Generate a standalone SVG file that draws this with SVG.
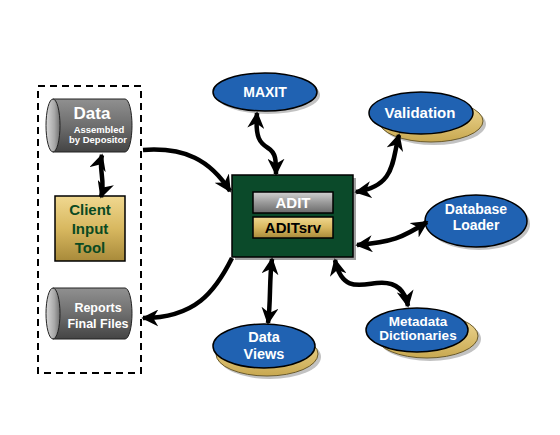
<svg xmlns="http://www.w3.org/2000/svg" width="560" height="435" viewBox="0 0 560 435">
<defs>
<linearGradient id="cylBody" x1="0" y1="0" x2="0" y2="1">
<stop offset="0" stop-color="#909090"/><stop offset="0.5" stop-color="#6e6e6e"/><stop offset="1" stop-color="#444"/>
</linearGradient>
<linearGradient id="cylEnd" x1="0" y1="0" x2="1" y2="0">
<stop offset="0" stop-color="#d8d8d8"/><stop offset="0.6" stop-color="#a8a8a8"/><stop offset="1" stop-color="#707070"/>
</linearGradient>
<linearGradient id="gold" x1="0" y1="0" x2="0" y2="1">
<stop offset="0" stop-color="#f0d890"/><stop offset="0.5" stop-color="#d8b860"/><stop offset="1" stop-color="#a88a3a"/>
</linearGradient>
<linearGradient id="grayBar" x1="0" y1="0" x2="0" y2="1">
<stop offset="0" stop-color="#d0d0d0"/><stop offset="0.5" stop-color="#9a9a9a"/><stop offset="1" stop-color="#6a6a6a"/>
</linearGradient>
<linearGradient id="goldEll" x1="0" y1="0" x2="0" y2="1">
<stop offset="0" stop-color="#f2dc9a"/><stop offset="1" stop-color="#c8a850"/>
</linearGradient>
<marker id="ah" viewBox="0 0 10 10" refX="9" refY="5" markerWidth="17" markerHeight="17" markerUnits="userSpaceOnUse" orient="auto-start-reverse">
<path d="M0,0 L10,5 L0,10 L3,5 Z" fill="#000"/>
</marker>
</defs>
<style>
.t{font-family:"Liberation Sans",Arial,Helvetica,sans-serif;font-weight:bold;text-anchor:middle}
.w{fill:#fff}
.ell{fill:#2062b2;stroke:#000;stroke-width:1.5}
.sh{fill:#9a9a9a;opacity:0.6}
.gl{fill:url(#goldEll);stroke:#6a5a2a;stroke-width:1}
.c{fill:none;stroke:#000;stroke-width:4.5;stroke-linecap:butt}
.cyl{fill:url(#cylBody);stroke:#222;stroke-width:1}
.cend{fill:url(#cylEnd);stroke:#222;stroke-width:1}
</style>
<rect width="560" height="435" fill="#fff"/>

<g id="depositor-group">
<rect x="38" y="86" width="103" height="287" fill="none" stroke="#000" stroke-width="2" stroke-dasharray="7,5"/>
</g>

<g id="data">
<path class="cyl" d="M53,99 L125,99 A7,26.5 0 0 1 125,152 L53,152 Z"/>
<ellipse class="cend" cx="53" cy="125.5" rx="7" ry="26.5"/>
<text class="t w" x="92" y="119" font-size="17">Data</text>
<text class="t w" x="99" y="133" font-size="9.5">Assembled</text>
<text class="t w" x="98" y="143" font-size="9.5">by Depositor</text>
</g>

<g id="client">
<rect x="55" y="196" width="70" height="65" fill="url(#gold)" stroke="#000" stroke-width="1.5"/>
<text class="t" x="90" y="215" font-size="15" fill="#0b4a22">Client</text>
<text class="t" x="90" y="234" font-size="15" fill="#0b4a22">Input</text>
<text class="t" x="90" y="253" font-size="15" fill="#0b4a22">Tool</text>
</g>

<g id="reports">
<path class="cyl" d="M53,288 L125,288 A7,25.5 0 0 1 125,339 L53,339 Z"/>
<ellipse class="cend" cx="53" cy="313.5" rx="7" ry="25.5"/>
<text class="t w" x="98" y="312" font-size="12.5">Reports</text>
<text class="t w" x="98" y="328" font-size="12.5">Final Files</text>
</g>

<g id="adit">
<rect x="235" y="178" width="121" height="82" fill="#a0a0a0"/>
<rect x="232" y="175" width="121" height="82" fill="#0b4a2a" stroke="#000" stroke-width="1.5"/>
<rect x="253" y="192" width="80" height="21" fill="url(#grayBar)" stroke="#000" stroke-width="1.5"/>
<text class="t w" x="293" y="208" font-size="15">ADIT</text>
<rect x="253" y="217" width="80" height="21" fill="url(#gold)" stroke="#000" stroke-width="1.5"/>
<text class="t" x="293" y="233" font-size="15" fill="#000">ADITsrv</text>
</g>

<g id="maxit">
<ellipse class="sh" cx="268" cy="95" rx="52" ry="19"/>
<ellipse class="ell" cx="265" cy="92" rx="52" ry="19"/>
<text class="t w" x="265" y="97" font-size="14">MAXIT</text>
</g>

<g id="validation">
<ellipse class="sh" cx="434" cy="124" rx="52" ry="21"/>
<ellipse class="gl" cx="431" cy="121" rx="52" ry="21"/>
<ellipse class="ell" cx="421" cy="113" rx="52" ry="21"/>
<text class="t w" x="420" y="118" font-size="15">Validation</text>
</g>

<g id="loader">
<ellipse class="sh" cx="479" cy="224" rx="51" ry="26"/>
<ellipse class="ell" cx="476" cy="221" rx="51" ry="26"/>
<text class="t w" x="476" y="214" font-size="14">Database</text>
<text class="t w" x="476" y="230" font-size="14">Loader</text>
</g>

<g id="metadata">
<ellipse class="sh" cx="430" cy="339" rx="51" ry="22"/>
<ellipse class="gl" cx="427" cy="336" rx="51" ry="22"/>
<ellipse class="ell" cx="417" cy="330" rx="51" ry="22"/>
<text class="t w" x="418" y="326" font-size="13.5">Metadata</text>
<text class="t w" x="418" y="340" font-size="13.5">Dictionaries</text>
</g>

<g id="views">
<ellipse class="sh" cx="270" cy="357" rx="51" ry="22"/>
<ellipse class="gl" cx="267" cy="354" rx="51" ry="22"/>
<ellipse class="ell" cx="264" cy="346" rx="51" ry="22"/>
<text class="t w" x="264" y="342" font-size="14.5">Data</text>
<text class="t w" x="264" y="359" font-size="14.5">Views</text>
</g>

<g id="connectors">
<path class="c" d="M143,150 C185,147 210,160 230,191" marker-end="url(#ah)"/>
<path class="c" d="M232,258 C215,292 195,318 143,318" marker-end="url(#ah)"/>
<path class="c" d="M102,155 C98,168 106,182 101,197" marker-start="url(#ah)" marker-end="url(#ah)"/>
<path class="c" d="M257,113 C255,138 260,143 268,148 C276,153 276,160 276,174" marker-start="url(#ah)" marker-end="url(#ah)"/>
<path class="c" d="M399,135 C392,160 396,186 356,192" marker-start="url(#ah)" marker-end="url(#ah)"/>
<path class="c" d="M357,245 C392,242 402,238 427,222" marker-start="url(#ah)" marker-end="url(#ah)"/>
<path class="c" d="M335,260 C342,292 360,285 377,283 C396,281 405,290 408,306" marker-start="url(#ah)" marker-end="url(#ah)"/>
<path class="c" d="M272,259 C269,282 271,300 268,323" marker-start="url(#ah)" marker-end="url(#ah)"/>
</g>
</svg>
